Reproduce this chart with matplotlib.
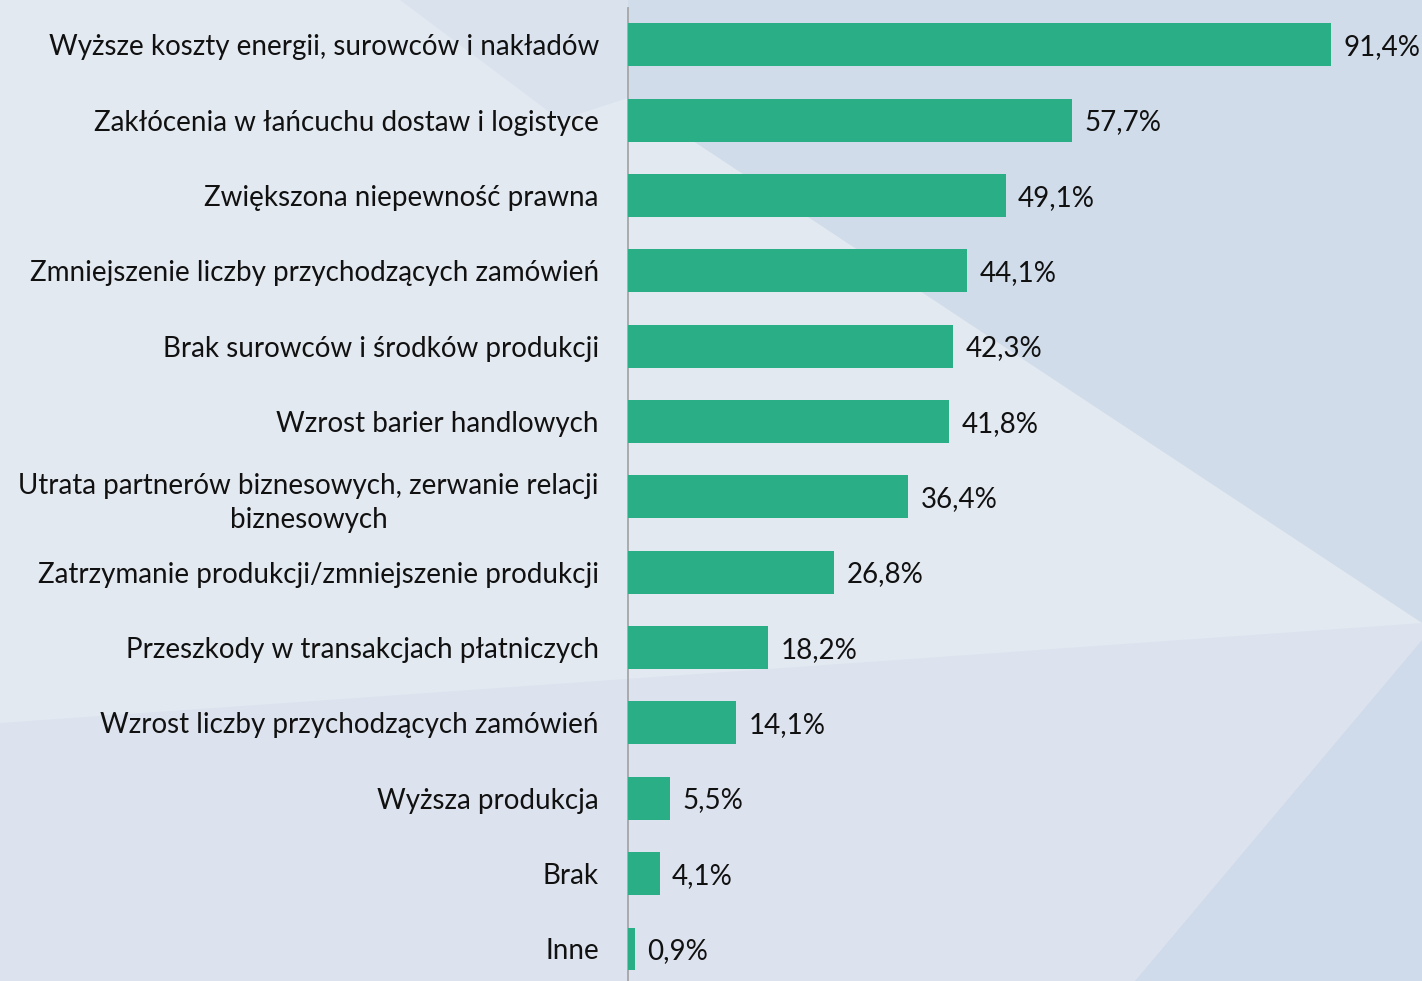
import matplotlib
matplotlib.use("Agg")
import matplotlib.pyplot as plt
from matplotlib.patches import Polygon

categories = [
    "Wyższe koszty energii, surowców i nakładów",
    "Zakłócenia w łańcuchu dostaw i logistyce",
    "Zwiększona niepewność prawna",
    "Zmniejszenie liczby przychodzących zamówień",
    "Brak surowców i środków produkcji",
    "Wzrost barier handlowych",
    "Utrata partnerów biznesowych, zerwanie relacji\nbiznesowych",
    "Zatrzymanie produkcji/zmniejszenie produkcji",
    "Przeszkody w transakcjach płatniczych",
    "Wzrost liczby przychodzących zamówień",
    "Wyższa produkcja",
    "Brak",
    "Inne",
]
values = [91.4, 57.7, 49.1, 44.1, 42.3, 41.8, 36.4, 26.8, 18.2, 14.1, 5.5, 4.1, 0.9]

W, H = 1422, 981
plt.rcParams["font.family"] = ["Lato", "DejaVu Sans"]

fig = plt.figure(figsize=(W / 100, H / 100), dpi=100)
fig.patch.set_facecolor("#dde3ee")


def bg(points, color):
    # background shapes, given in image pixels (origin top-left)
    pts = [(x / W, 1 - y / H) for x, y in points]
    fig.add_artist(Polygon(pts, closed=True, facecolor=color, edgecolor="none",
                           transform=fig.transFigure, zorder=-10))


bg([(0, 0), (W, 0), (W, 623), (0, 723)], "#e3e9f1")
bg([(400, 0), (628, 0), (628, 98), (560, 120)], "#dae2ee")
bg([(628, 98), (W, 623), (W, 0), (628, 0)], "#d1dcea")
bg([(W, 640), (W, H), (1135, H)], "#cfdbea")

ax = fig.add_axes([628 / W, 0, 769 / W, 973 / H])
ax.set_facecolor("none")

y = list(range(len(categories)))
ax.barh(y, values, height=0.57, color="#2aae86", zorder=3)
for yi, v in zip(y, values):
    ax.annotate(f"{v:.1f}".replace(".", ",") + "%", (v, yi),
                xytext=(9, -1.5), textcoords="offset points",
                va="center", ha="left", fontsize=20, color="#111111")

ax.set_xlim(0, 100)
ax.set_ylim(12.425, -0.49)
ax.set_yticks(y)
ax.set_yticklabels(categories, fontsize=20, color="#111111")
for lab in ax.get_yticklabels():
    lab.set_multialignment("center")
    lab.set_linespacing(1.35)
ax.tick_params(axis="y", length=0, pad=21)
ax.set_xticks([])
for side in ["top", "right", "bottom"]:
    ax.spines[side].set_visible(False)
ax.spines["left"].set_color("#a6a6a6")
ax.spines["left"].set_linewidth(1.3)

fig.savefig("out.png", dpi=100, facecolor=fig.get_facecolor())
